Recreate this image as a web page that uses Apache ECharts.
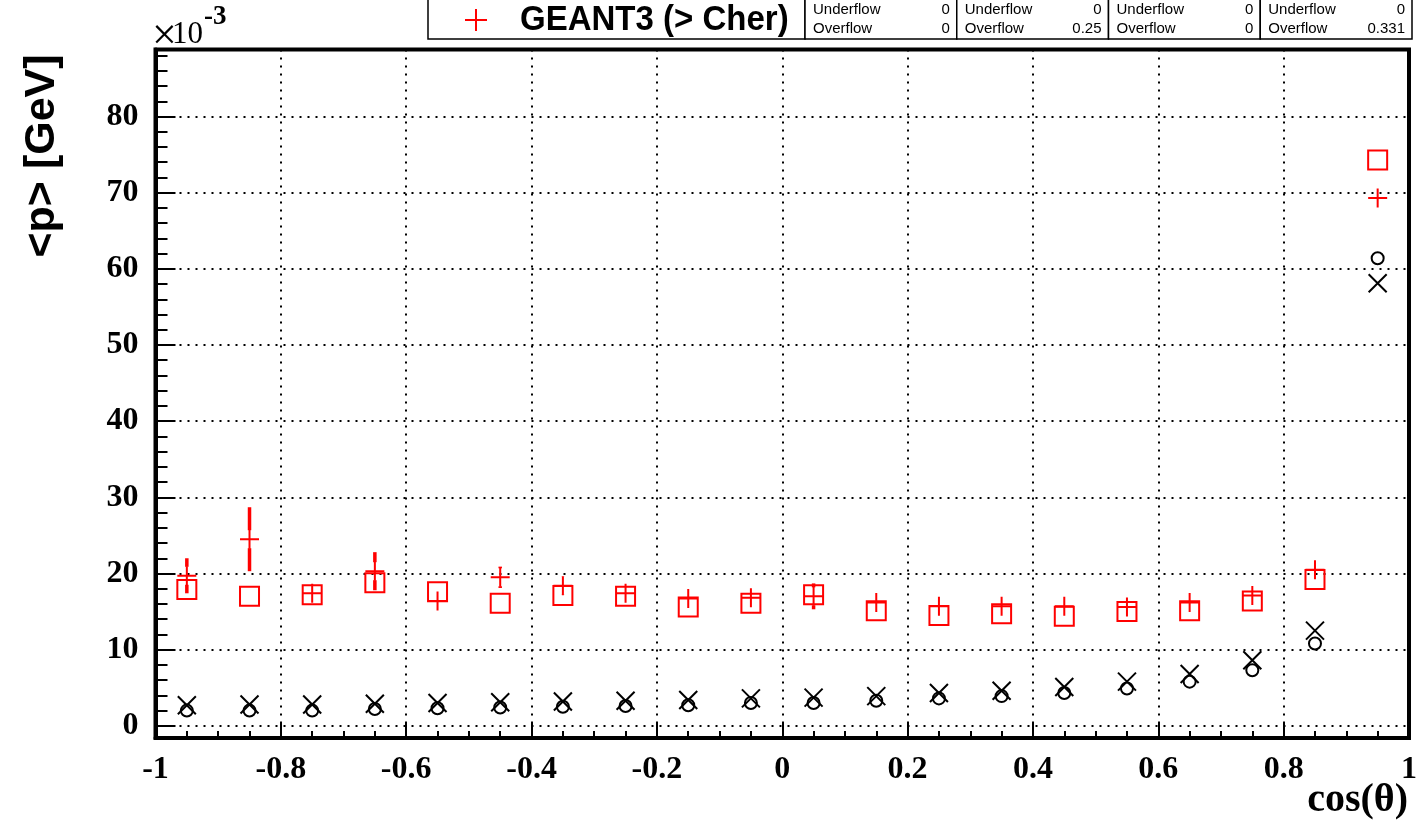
<!DOCTYPE html>
<html>
<head>
<meta charset="utf-8">
<title>&lt;p&gt; vs cos(theta)</title>
<script src="https://cdn.jsdelivr.net/npm/echarts@6/dist/echarts.min.js"></script>
<style>
  html, body { margin: 0; padding: 0; background: #fff; }
  #chart { width: 1420px; height: 835px; }
</style>
</head>
<body>
<div id="chart"></div>
<script>
// bin centres in cos(theta)
const cosBins = [-0.95, -0.85, -0.75, -0.65, -0.55, -0.45, -0.35, -0.25, -0.15, -0.05,
                 0.05, 0.15, 0.25, 0.35, 0.45, 0.55, 0.65, 0.75, 0.85, 0.95]

// <p> values, in units of 1e-3 GeV
const squareVals = [17.9, 17.0, 17.2, 18.8, 17.6, 16.1, 17.1, 17.0, 15.6, 16.1,
                    17.2, 15.1, 14.5, 14.7, 14.4, 15.0, 15.1, 16.4, 19.2, 74.3]
const geantVals = [19.7, 24.5, 17.4, 20.3, 16.4, 19.5, 18.4, 17.4, 16.7, 16.8,
                   17.0, 16.2, 15.7, 15.7, 15.7, 15.6, 16.2, 17.1, 20.5, 69.3]
const geantErrs = [2.3, 4.2, 1.0, 2.5, 1.0, 1.4, 1.2, 1.0, 1.0, 1.0,
                   1.7, 1.0, 1.0, 1.0, 1.0, 1.0, 1.0, 1.0, 1.0, 0.5]
const circleVals = [2.0, 2.0, 2.0, 2.2, 2.3, 2.4, 2.5, 2.6, 2.7, 3.0,
                    3.0, 3.3, 3.6, 3.9, 4.3, 4.9, 5.8, 7.3, 10.8, 61.4]
const crossVals = [2.7, 2.8, 2.8, 2.9, 3.0, 3.1, 3.2, 3.3, 3.4, 3.6,
                   3.7, 3.9, 4.3, 4.6, 5.1, 5.8, 6.8, 8.6, 12.5, 58.1]

// axis ticks
const yMajorTicks = [0, 10, 20, 30, 40, 50, 60, 70, 80]
const yMinorTicks = [0, 2, 4, 6, 8, 10, 12, 14, 16, 18, 20, 22, 24, 26, 28, 30, 32, 34, 36, 38,
                     40, 42, 44, 46, 48, 50, 52, 54, 56, 58, 60, 62, 64, 66, 68, 70, 72, 74, 76, 78,
                     80, 82, 84, 86, 88]

// stats boxes
const underflowVals = ['0', '0', '0', '0']
const overflowVals = ['0', '0.25', '0', '0.331']

const RED = '#ff0000'
const SERIF = '"Liberation Serif", "Times New Roman", serif'
const SANS = '"Liberation Sans", Arial, Helvetica, sans-serif'

const chart = echarts.init(document.getElementById('chart'))

const gridLine = { show: true, lineStyle: { color: '#000', type: [2, 6], width: 2 } }
const tickFont = { color: '#000', fontFamily: SERIF, fontWeight: 'bold', fontSize: 32 }

function pairs(vals) {
  return cosBins.map((x, i) => [x, vals[i]])
}

// error bar, drawn only outside the marker arms
function renderErr(params, api) {
  const x = api.value(0)
  const y = api.value(1)
  const e = api.value(2)
  const c = api.coord([x, y])
  const top = api.coord([x, y + e])[1]
  const bot = api.coord([x, y - e])[1]
  const arm = 9
  const kids = []
  if (top < c[1] - arm) {
    kids.push({ type: 'line', shape: { x1: c[0], y1: top, x2: c[0], y2: c[1] - arm },
      style: { stroke: RED, lineWidth: 3.5 } })
  }
  if (bot > c[1] + arm) {
    kids.push({ type: 'line', shape: { x1: c[0], y1: c[1] + arm, x2: c[0], y2: bot },
      style: { stroke: RED, lineWidth: 3.5 } })
  }
  return { type: 'group', children: kids }
}

// legend + stats boxes along the top
const graphics = [
  { type: 'rect', shape: { x: 428, y: -2, width: 377, height: 41 },
    style: { fill: '#fff', stroke: '#000', lineWidth: 1.5 }, z: 10 },
  { type: 'line', shape: { x1: 465, y1: 20, x2: 487, y2: 20 }, style: { stroke: RED, lineWidth: 2 }, z: 11 },
  { type: 'line', shape: { x1: 476, y1: 9, x2: 476, y2: 31 }, style: { stroke: RED, lineWidth: 2 }, z: 11 },
  { type: 'text', x: 520, y: 20, z: 11, scaleY: 1.08,
    style: { text: 'GEANT3 (> Cher)', font: 'bold 33px ' + SANS, fill: '#000', verticalAlign: 'middle' } },
  // x10^-3 axis multiplier
  { type: 'text', x: 152, y: 37,
    style: { text: '×', font: '44px ' + SERIF, fill: '#000', verticalAlign: 'middle' } },
  { type: 'text', x: 172, y: 35,
    style: { text: '10', font: '31px ' + SERIF, fill: '#000', verticalAlign: 'middle' } },
  { type: 'text', x: 204, y: 17,
    style: { text: '-3', font: 'bold 27px ' + SERIF, fill: '#000', verticalAlign: 'middle' } },
  { type: 'text', x: 42, y: 156, rotation: Math.PI / 2,
    style: { text: '<p> [GeV]', font: 'bold 43px ' + SANS, fill: '#000', align: 'center', verticalAlign: 'middle' } },
  { type: 'text', x: 1408, y: 801,
    style: { text: 'cos(θ)', font: 'bold 40px ' + SERIF, fill: '#000', align: 'right', verticalAlign: 'middle' } }
]
const boxW = 151.75
for (let i = 0; i < 4; i++) {
  const bx = 805 + i * boxW
  graphics.push(
    { type: 'rect', shape: { x: bx, y: -2, width: boxW, height: 41 },
      style: { fill: '#fff', stroke: '#000', lineWidth: 1.5 }, z: 10 },
    { type: 'text', x: bx + 8, y: 10, z: 11,
      style: { text: 'Underflow', font: '15px ' + SANS, fill: '#000', verticalAlign: 'middle' } },
    { type: 'text', x: bx + boxW - 7, y: 10, z: 11,
      style: { text: underflowVals[i], font: '15px ' + SANS, fill: '#000', align: 'right', verticalAlign: 'middle' } },
    { type: 'text', x: bx + 8, y: 29, z: 11,
      style: { text: 'Overflow', font: '15px ' + SANS, fill: '#000', verticalAlign: 'middle' } },
    { type: 'text', x: bx + boxW - 7, y: 29, z: 11,
      style: { text: overflowVals[i], font: '15px ' + SANS, fill: '#000', align: 'right', verticalAlign: 'middle' } }
  )
}

chart.setOption({
  animation: false,
  backgroundColor: '#fff',
  grid: {
    left: 155.5, right: 8.5, top: 49.5, bottom: 97,
    show: true, borderColor: '#000', borderWidth: 4
  },
  xAxis: {
    type: 'value', min: -1, max: 1, interval: 0.2,
    axisLine: { show: true, onZero: false, lineStyle: { color: '#000', width: 4 } },
    axisTick: { inside: true, length: 15, lineStyle: { color: '#000', width: 2 } },
    minorTick: { show: true, splitNumber: 4, length: 7, lineStyle: { color: '#000', width: 2 } },
    axisLabel: Object.assign({ margin: 16 }, tickFont),
    splitLine: gridLine
  },
  yAxis: [
    {
      type: 'value', min: -1.6, max: 88.8,
      axisLine: { show: true, onZero: false, lineStyle: { color: '#000', width: 4 } },
      axisTick: { customValues: yMajorTicks, inside: true, length: 20, lineStyle: { color: '#000', width: 2 } },
      axisLabel: Object.assign({ customValues: yMajorTicks, margin: 17 }, tickFont),
      splitLine: gridLine
    },
    {
      type: 'value', min: -1.6, max: 88.8, position: 'left',
      axisLine: { show: false, onZero: false },
      axisTick: { customValues: yMinorTicks, inside: true, length: 12, lineStyle: { color: '#000', width: 2 } },
      axisLabel: { show: false },
      splitLine: { show: false }
    }
  ],
  graphic: graphics,
  series: [
    {
      name: 'squares', type: 'scatter', data: pairs(squareVals),
      symbol: 'rect', symbolSize: 19,
      itemStyle: { color: 'transparent', borderColor: RED, borderWidth: 2, opacity: 1 }
    },
    {
      name: 'circles', type: 'scatter', data: pairs(circleVals),
      symbol: 'circle', symbolSize: 12,
      itemStyle: { color: 'transparent', borderColor: '#000', borderWidth: 2, opacity: 1 }
    },
    {
      name: 'crosses', type: 'scatter', data: pairs(crossVals),
      symbol: 'path://M0,0L10,10M10,0L0,10', symbolSize: 18,
      itemStyle: { color: 'transparent', borderColor: '#000', borderWidth: 2, opacity: 1 }
    },
    {
      name: 'GEANT3 err', type: 'custom',
      data: cosBins.map((x, i) => [x, geantVals[i], geantErrs[i]]),
      encode: { x: 0, y: 1 },
      renderItem: renderErr, z: 3
    },
    {
      name: 'GEANT3 (> Cher)', type: 'scatter', data: pairs(geantVals),
      symbol: 'path://M5,0L5,10M0,5L10,5', symbolSize: 19,
      itemStyle: { color: 'transparent', borderColor: RED, borderWidth: 2, opacity: 1 }, z: 4
    }
  ]
})
</script>
</body>
</html>
